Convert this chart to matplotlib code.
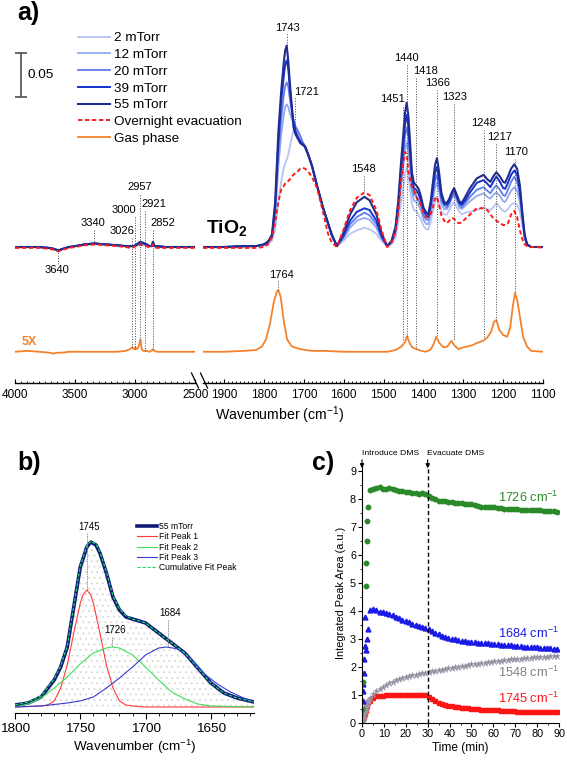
import matplotlib
matplotlib.use("Agg")
import matplotlib.pyplot as plt
from matplotlib.lines import Line2D
from matplotlib.ticker import MultipleLocator

plt.rcParams["font.family"] = ["Liberation Sans", "DejaVu Sans"]
plt.rcParams["mathtext.fontset"] = "custom"
plt.rcParams["mathtext.rm"] = "Liberation Sans"
plt.rcParams["mathtext.bf"] = "Liberation Sans:bold"
plt.rcParams["mathtext.default"] = "regular"
plt.rcParams["hatch.linewidth"] = 0.6

W, H = 567, 763  # output size in pixels


def fx(px):
    return px / W


def fy(py):
    return 1 - py / H


# ---------------------------------------------------------------- panel a
# high-wavenumber window (left part of the broken axis)
wn_lo = [4000, 3900, 3800, 3720, 3680, 3640, 3600, 3550, 3500, 3420,
         3340, 3250, 3150, 3080, 3040, 3026, 3010, 3000, 2985, 2970,
         2957, 2945, 2935, 2921, 2905, 2880, 2865, 2852, 2840, 2820,
         2750, 2650, 2500]

lo_55 = [0.0, 0.0, 0.0, -0.001, -0.002, -0.004, -0.002, 0.0, 0.001, 0.003,
         0.004, 0.003, 0.002, 0.001, 0.001, 0.001, 0.001, 0.002, 0.003, 0.005,
         0.006, 0.005, 0.005, 0.004, 0.003, 0.001, 0.001, 0.006, 0.001, 0.001,
         0.0, 0.0, 0.0]
lo_39 = [0.0, 0.0, 0.0, -0.001, -0.002, -0.004, -0.002, 0.0, 0.001, 0.003,
         0.004, 0.003, 0.002, 0.001, 0.001, 0.001, 0.001, 0.002, 0.003, 0.004,
         0.005, 0.005, 0.004, 0.004, 0.003, 0.001, 0.001, 0.005, 0.001, 0.001,
         0.0, 0.0, 0.0]
lo_20 = [0.0, 0.0, 0.0, -0.001, -0.002, -0.004, -0.002, 0.0, 0.001, 0.003,
         0.004, 0.003, 0.002, 0.001, 0.001, 0.001, 0.001, 0.002, 0.003, 0.004,
         0.004, 0.004, 0.004, 0.003, 0.002, 0.001, 0.001, 0.004, 0.001, 0.001,
         0.0, 0.0, 0.0]
lo_12 = [0.0, 0.0, 0.0, -0.001, -0.002, -0.004, -0.002, 0.0, 0.001, 0.003,
         0.004, 0.003, 0.002, 0.001, 0.001, 0.001, 0.001, 0.001, 0.002, 0.003,
         0.003, 0.003, 0.003, 0.003, 0.002, 0.001, 0.001, 0.003, 0.001, 0.0,
         0.0, 0.0, 0.0]
lo_2 = [0.0, 0.0, 0.0, -0.001, -0.002, -0.003, -0.002, 0.0, 0.001, 0.002,
        0.003, 0.003, 0.002, 0.001, 0.001, 0.001, 0.001, 0.001, 0.001, 0.002,
        0.002, 0.002, 0.002, 0.002, 0.001, 0.001, 0.001, 0.002, 0.001, 0.0,
        0.0, 0.0, 0.0]
lo_evac = [-0.001, -0.001, -0.001, -0.002, -0.003, -0.005, -0.003, -0.001, 0.0, 0.002,
           0.003, 0.002, 0.001, 0.0, -0.001, -0.001, 0.0, 0.001, 0.002, 0.002,
           0.003, 0.002, 0.002, 0.001, 0.001, -0.001, 0.0, 0.003, 0.0, -0.001,
           -0.001, -0.001, -0.001]
lo_gas = [0.0, 0.001, 0.0, -0.001, -0.002, -0.001, -0.001, 0.0, 0.0, 0.0,
          0.0, 0.0, 0.0, 0.001, 0.003, 0.005, 0.003, 0.005, 0.003, 0.006,
          0.014, 0.003, 0.001, 0.001, 0.001, 0.0, 0.001, 0.003, 0.001, 0.0,
          0.0, 0.0, 0.0]

# fingerprint window (right part of the broken axis)
wn_hi = [1953, 1900, 1850, 1820, 1800, 1790, 1780, 1772, 1764, 1757,
         1751, 1747, 1743, 1739, 1735, 1730, 1726, 1721, 1715, 1709,
         1703, 1697, 1690, 1680, 1667, 1652, 1640, 1630, 1617, 1601,
         1584, 1567, 1548, 1535, 1518, 1505, 1491, 1480, 1470, 1463,
         1457, 1451, 1446, 1442, 1438, 1434, 1429, 1424, 1418, 1412,
         1406, 1400, 1393, 1388, 1382, 1376, 1371, 1366, 1361, 1355,
         1348, 1341, 1335, 1329, 1323, 1316, 1310, 1304, 1295, 1283,
         1266, 1249, 1240, 1232, 1225, 1217, 1208, 1200, 1195, 1188,
         1180, 1172, 1165, 1158, 1152, 1146, 1140, 1130, 1115, 1100]

hi_55 = [0.0, 0.0, 0.001, 0.001, 0.003, 0.006, 0.014, 0.051, 0.130, 0.176,
         0.207, 0.223, 0.229, 0.211, 0.186, 0.159, 0.136, 0.128, 0.123, 0.118,
         0.116, 0.114, 0.106, 0.093, 0.070, 0.045, 0.028, 0.014, 0.001, 0.016,
         0.037, 0.051, 0.057, 0.053, 0.037, 0.016, 0.001, 0.007, 0.023, 0.053,
         0.091, 0.125, 0.153, 0.164, 0.150, 0.123, 0.085, 0.073, 0.070, 0.066,
         0.057, 0.045, 0.039, 0.037, 0.051, 0.074, 0.093, 0.101, 0.086, 0.062,
         0.051, 0.050, 0.055, 0.062, 0.067, 0.059, 0.052, 0.050, 0.057, 0.067,
         0.078, 0.082, 0.077, 0.074, 0.080, 0.085, 0.080, 0.074, 0.073, 0.080,
         0.089, 0.094, 0.089, 0.070, 0.040, 0.014, 0.003, 0.0, 0.0, 0.0]
hi_39 = [0.0, 0.0, 0.001, 0.001, 0.003, 0.006, 0.0125, 0.045, 0.119, 0.165,
         0.191, 0.207, 0.212, 0.202, 0.179, 0.157, 0.142, 0.132, 0.125, 0.120,
         0.117, 0.114, 0.106, 0.093, 0.070, 0.045, 0.028, 0.014, 0.001, 0.0125,
         0.030, 0.040, 0.044, 0.042, 0.030, 0.0125, 0.001, 0.006, 0.020, 0.049,
         0.083, 0.114, 0.140, 0.150, 0.137, 0.112, 0.080, 0.067, 0.065, 0.060,
         0.052, 0.042, 0.035, 0.034, 0.047, 0.067, 0.084, 0.091, 0.078, 0.058,
         0.049, 0.048, 0.052, 0.060, 0.065, 0.057, 0.050, 0.048, 0.053, 0.062,
         0.073, 0.076, 0.072, 0.068, 0.074, 0.080, 0.074, 0.067, 0.066, 0.073,
         0.082, 0.087, 0.082, 0.065, 0.037, 0.0125, 0.003, 0.0, 0.0, 0.0]
hi_20 = [0.0, 0.0, 0.001, 0.001, 0.003, 0.006, 0.011, 0.040, 0.105, 0.145,
         0.170, 0.183, 0.187, 0.182, 0.168, 0.153, 0.145, 0.137, 0.132, 0.126,
         0.119, 0.115, 0.107, 0.093, 0.070, 0.045, 0.028, 0.014, 0.001, 0.011,
         0.026, 0.034, 0.039, 0.036, 0.026, 0.011, 0.001, 0.005, 0.018, 0.044,
         0.075, 0.102, 0.127, 0.136, 0.125, 0.102, 0.072, 0.060, 0.058, 0.053,
         0.047, 0.036, 0.031, 0.031, 0.042, 0.060, 0.075, 0.082, 0.070, 0.053,
         0.047, 0.045, 0.050, 0.057, 0.061, 0.055, 0.048, 0.045, 0.050, 0.057,
         0.065, 0.068, 0.064, 0.061, 0.066, 0.070, 0.065, 0.059, 0.058, 0.065,
         0.074, 0.080, 0.074, 0.059, 0.034, 0.011, 0.003, 0.0, 0.0, 0.0]
hi_12 = [0.0, 0.0, 0.001, 0.001, 0.002, 0.005, 0.010, 0.034, 0.091, 0.127,
         0.148, 0.159, 0.162, 0.159, 0.152, 0.145, 0.143, 0.136, 0.132, 0.126,
         0.119, 0.114, 0.106, 0.092, 0.069, 0.045, 0.028, 0.014, 0.001, 0.009,
         0.022, 0.030, 0.033, 0.031, 0.022, 0.009, 0.001, 0.005, 0.016, 0.039,
         0.066, 0.089, 0.110, 0.119, 0.109, 0.090, 0.064, 0.053, 0.051, 0.048,
         0.041, 0.031, 0.026, 0.026, 0.037, 0.053, 0.067, 0.073, 0.064, 0.049,
         0.043, 0.043, 0.048, 0.055, 0.059, 0.052, 0.045, 0.043, 0.047, 0.052,
         0.058, 0.061, 0.057, 0.055, 0.059, 0.062, 0.058, 0.052, 0.051, 0.057,
         0.064, 0.068, 0.064, 0.051, 0.031, 0.010, 0.003, 0.0, 0.0, 0.0]
hi_2 = [0.0, 0.0, 0.0, 0.001, 0.002, 0.003, 0.007, 0.020, 0.051, 0.074,
        0.089, 0.095, 0.099, 0.105, 0.114, 0.125, 0.133, 0.135, 0.132, 0.125,
        0.118, 0.112, 0.105, 0.091, 0.068, 0.044, 0.027, 0.0125, 0.001, 0.007,
        0.015, 0.019, 0.022, 0.020, 0.015, 0.007, 0.001, 0.003, 0.011, 0.028,
        0.048, 0.066, 0.083, 0.091, 0.084, 0.068, 0.050, 0.042, 0.041, 0.036,
        0.031, 0.024, 0.020, 0.020, 0.028, 0.041, 0.051, 0.057, 0.050, 0.041,
        0.037, 0.037, 0.042, 0.048, 0.051, 0.045, 0.040, 0.037, 0.039, 0.040,
        0.042, 0.045, 0.043, 0.042, 0.045, 0.050, 0.045, 0.041, 0.040, 0.043,
        0.048, 0.050, 0.048, 0.040, 0.025, 0.009, 0.002, 0.0, 0.0, 0.0]
hi_evac = [-0.001, -0.001, -0.001, -0.001, 0.0, 0.003, 0.011, 0.028, 0.051, 0.065,
           0.069, 0.072, 0.073, 0.075, 0.077, 0.080, 0.082, 0.084, 0.086, 0.089,
           0.090, 0.089, 0.086, 0.080, 0.067, 0.040, 0.016, 0.005, 0.0, 0.019,
           0.042, 0.056, 0.062, 0.059, 0.042, 0.019, 0.0, 0.005, 0.017, 0.040,
           0.070, 0.095, 0.108, 0.105, 0.087, 0.077, 0.068, 0.066, 0.057, 0.052,
           0.048, 0.039, 0.034, 0.034, 0.037, 0.045, 0.055, 0.057, 0.048, 0.036,
           0.030, 0.027, 0.030, 0.033, 0.032, 0.028, 0.027, 0.028, 0.032, 0.037,
           0.044, 0.044, 0.042, 0.037, 0.033, 0.030, 0.027, 0.025, 0.025, 0.027,
           0.037, 0.041, 0.034, 0.019, 0.009, 0.003, 0.001, 0.0, 0.0, -0.001]

wn_gas = [1953, 1900, 1850, 1820, 1805, 1795, 1785, 1775, 1768, 1764,
          1758, 1750, 1742, 1730, 1710, 1680, 1650, 1600, 1548, 1490,
          1470, 1455, 1446, 1441, 1436, 1428, 1418, 1405, 1395, 1383,
          1375, 1368, 1360, 1350, 1340, 1330, 1322, 1312, 1300, 1280,
          1265, 1250, 1240, 1230, 1223, 1217, 1210, 1200, 1190, 1182,
          1176, 1170, 1164, 1158, 1150, 1140, 1130, 1100]
hi_gas = [0.0, 0.0, 0.001, 0.002, 0.006, 0.014, 0.032, 0.057, 0.068, 0.070,
          0.062, 0.034, 0.014, 0.006, 0.003, 0.001, 0.001, 0.0, 0.0, 0.0,
          0.002, 0.006, 0.011, 0.018, 0.011, 0.005, 0.003, 0.001, 0.0, 0.002,
          0.008, 0.017, 0.010, 0.005, 0.006, 0.0125, 0.007, 0.003, 0.005, 0.007,
          0.010, 0.0125, 0.016, 0.023, 0.034, 0.036, 0.025, 0.019, 0.017, 0.028,
          0.051, 0.067, 0.057, 0.040, 0.017, 0.006, 0.001, 0.0]
GAS_OFFSET = -0.119   # vertical offset of the gas-phase trace

series_a = [
    ("2 mTorr", lo_2, hi_2, "#b7c4f4", 1.3),
    ("12 mTorr", lo_12, hi_12, "#93a8f0", 1.3),
    ("20 mTorr", lo_20, hi_20, "#5f7fe8", 1.3),
    ("39 mTorr", lo_39, hi_39, "#1632cc", 1.4),
    ("55 mTorr", lo_55, hi_55, "#222c8e", 1.5),
]

# peak labels: text, text x, text y, line x, line top, line bottom
labels_hi = [
    ("1743", 1742, 0.2488, 1743, 0.242, 0.2295),
    ("1721", 1693, 0.176, 1721, 0.169, 0.135),
    ("1548", 1551, 0.0886, 1548, 0.0807, 0.0636),
    ("1764", 1757, -0.0318, 1764, -0.0386, -0.0489),
    ("1451", 1477, 0.168, 1451, 0.159, -0.1057),
    ("1440", 1442, 0.2144, 1440, 0.2068, -0.101),
    ("1418", 1394, 0.2003, 1418, 0.192, -0.1159),
    ("1366", 1364, 0.186, 1366, 0.1784, -0.1022),
    ("1323", 1323, 0.170, 1323, 0.1625, -0.1068),
    ("1248", 1248, 0.1405, 1248, 0.1329, -0.1034),
    ("1217", 1209.5, 0.1246, 1217, 0.117, -0.0829),
    ("1170", 1168, 0.1083, 1170, 0.100, -0.0523),
]
labels_lo = [
    ("3640", 3651, -0.0261, 3640, -0.0034, -0.019),
    ("3340", 3351, 0.0273, 3340, 0.0193, 0.0045),
    ("3026", 3110, 0.0182, 3026, 0.0102, -0.1147),
    ("3000", 3093, 0.042, 3000, 0.034, -0.117),
    ("2957", 2960, 0.068, 2957, 0.059, -0.1057),
    ("2921", 2844, 0.0489, 2921, 0.041, -0.118),
    ("2852", 2769, 0.0273, 2852, 0.0193, -0.116),
]

# ---------------------------------------------------------------- panel b
wn_b = [1800, 1790, 1780, 1770, 1765, 1760, 1755, 1750, 1745, 1742,
        1738, 1735, 1730, 1725, 1720, 1715, 1710, 1705, 1700, 1695,
        1690, 1685, 1680, 1670, 1660, 1650, 1640, 1630, 1617]
b_55 = [0.02, 0.04, 0.10, 0.27, 0.40, 0.60, 1.00, 1.40, 1.60, 1.65,
        1.62, 1.54, 1.34, 1.10, 0.97, 0.90, 0.88, 0.86, 0.84, 0.79,
        0.74, 0.69, 0.64, 0.54, 0.39, 0.24, 0.14, 0.09, 0.05]
b_cum = [0.02, 0.05, 0.11, 0.28, 0.41, 0.61, 1.01, 1.41, 1.61, 1.66,
         1.63, 1.55, 1.35, 1.11, 0.98, 0.91, 0.88, 0.86, 0.84, 0.79,
         0.74, 0.69, 0.64, 0.54, 0.39, 0.24, 0.14, 0.09, 0.05]
wn_p1 = [1800, 1780, 1775, 1770, 1765, 1760, 1755, 1750, 1748, 1745,
         1742, 1740, 1735, 1730, 1725, 1720, 1715, 1710, 1700, 1617]
b_p1 = [0.0, 0.01, 0.02, 0.06, 0.19, 0.42, 0.74, 1.04, 1.12, 1.17,
        1.12, 1.04, 0.74, 0.42, 0.19, 0.06, 0.02, 0.01, 0.0, 0.0]
wn_p2 = [1800, 1790, 1780, 1770, 1760, 1750, 1740, 1730, 1726, 1720,
         1710, 1700, 1690, 1680, 1670, 1660, 1650, 1617]
b_p2 = [0.0, 0.03, 0.09, 0.19, 0.30, 0.43, 0.54, 0.59, 0.60, 0.59,
        0.52, 0.40, 0.27, 0.15, 0.08, 0.03, 0.01, 0.0]
wn_p3 = [1800, 1780, 1760, 1750, 1740, 1730, 1720, 1710, 1700, 1690,
         1684, 1675, 1665, 1655, 1645, 1635, 1625, 1617]
b_p3 = [0.0, 0.01, 0.04, 0.06, 0.10, 0.19, 0.29, 0.40, 0.52, 0.59,
        0.60, 0.58, 0.48, 0.33, 0.23, 0.15, 0.09, 0.05]

# ---------------------------------------------------------------- panel c
t_grid = [3.5, 5, 6.5, 8, 9.5, 11, 12.5, 14, 15.5, 17,
          18.5, 20, 21.5, 23, 24.5, 26, 27.5, 29, 30.5, 32,
          33.5, 35, 36.5, 38, 39.5, 41, 42.5, 44, 45.5, 47,
          48.5, 50, 51.5, 53, 54.5, 56, 57.5, 59, 60.5, 62,
          63.5, 65, 66.5, 68, 69.5, 71, 72.5, 74, 75.5, 77,
          78.5, 80, 81.5, 83, 84.5, 86, 87.5, 89]

t_1726_start = [0.15, 0.6, 1.6, 1.8, 2.1, 2.3, 2.6]
v_1726_start = [0.5, 1.45, 4.9, 5.7, 6.5, 7.2, 7.7]
v_1726 = [8.33, 8.36, 8.38, 8.42, 8.37, 8.36, 8.40, 8.35, 8.31, 8.30,
          8.27, 8.25, 8.24, 8.22, 8.20, 8.19, 8.21, 8.18, 8.12, 8.04,
          8.00, 7.94, 7.93, 7.92, 7.90, 7.89, 7.87, 7.85, 7.84, 7.83,
          7.82, 7.81, 7.78, 7.75, 7.73, 7.72, 7.71, 7.70, 7.70, 7.68,
          7.67, 7.66, 7.66, 7.65, 7.64, 7.63, 7.62, 7.60, 7.61, 7.60,
          7.59, 7.60, 7.59, 7.58, 7.57, 7.57, 7.56, 7.55]

t_1684_start = [0.3, 0.45, 0.6, 0.76, 1.0, 1.15, 1.25, 2.0, 2.3, 2.7]
v_1684_start = [0.8, 1.13, 1.4, 1.8, 2.27, 2.75, 3.8, 2.6, 3.0, 3.37]
v_1684 = [4.04, 4.06, 4.02, 3.98, 3.95, 3.92, 3.88, 3.84, 3.80, 3.74,
          3.68, 3.63, 3.59, 3.55, 3.51, 3.48, 3.44, 3.41, 3.36, 3.30,
          3.23, 3.17, 3.12, 3.07, 3.04, 3.01, 2.99, 2.96, 2.94, 2.92,
          2.91, 2.89, 2.88, 2.87, 2.86, 2.85, 2.84, 2.83, 2.82, 2.81,
          2.80, 2.79, 2.78, 2.77, 2.76, 2.75, 2.74, 2.73, 2.72, 2.71,
          2.70, 2.70, 2.69, 2.68, 2.68, 2.67, 2.66, 2.65]

t_slow_start = [0.25, 0.5, 0.75, 1.0, 1.25, 1.5, 1.75, 2.0, 2.25, 2.5, 2.75, 3.0]
v_1548_start = [0.05, 0.12, 0.2, 0.3, 0.38, 0.47, 0.55, 0.62, 0.68, 0.73, 0.78, 0.82]
v_1548 = [0.88, 1.02, 1.13, 1.22, 1.30, 1.36, 1.42, 1.48, 1.53, 1.57,
          1.61, 1.64, 1.67, 1.70, 1.72, 1.75, 1.77, 1.79, 1.81, 1.84,
          1.86, 1.88, 1.91, 1.93, 1.95, 1.97, 1.99, 2.01, 2.03, 2.05,
          2.07, 2.09, 2.11, 2.12, 2.14, 2.16, 2.17, 2.19, 2.20, 2.22,
          2.23, 2.25, 2.26, 2.27, 2.28, 2.29, 2.30, 2.31, 2.32, 2.33,
          2.34, 2.35, 2.36, 2.37, 2.37, 2.38, 2.39, 2.40]
v_1745_start = [0.15, 0.18, 0.22, 0.28, 0.32, 0.38, 0.45, 0.52, 0.6, 0.68, 0.74, 0.78]
v_1745 = [0.80, 0.90, 0.95, 0.97, 0.98, 0.99, 0.99, 1.00, 1.00, 1.00,
          1.01, 1.01, 1.01, 1.01, 1.01, 1.01, 1.01, 1.00, 0.93, 0.84,
          0.77, 0.72, 0.68, 0.64, 0.62, 0.60, 0.58, 0.56, 0.55, 0.53,
          0.52, 0.51, 0.50, 0.49, 0.48, 0.47, 0.47, 0.46, 0.45, 0.45,
          0.44, 0.43, 0.43, 0.42, 0.42, 0.41, 0.41, 0.41, 0.40, 0.40,
          0.40, 0.39, 0.39, 0.39, 0.38, 0.38, 0.38, 0.38]

# ================================================================ drawing
fig = plt.figure(figsize=(W / 100, H / 100), dpi=100)

# ---- panel a: two axes sharing one broken wavenumber axis
ax_l = fig.add_axes([fx(15), fy(383), fx(195.3) - fx(15), fy(20) - fy(383)])
ax_r = fig.add_axes([fx(203), fy(383), fx(543) - fx(203), fy(20) - fy(383)])
for ax in (ax_l, ax_r):
    ax.set_ylim(-0.1545, 0.2579)
    ax.patch.set_visible(False)
    for side in ("top", "left", "right"):
        ax.spines[side].set_visible(False)
    ax.spines["bottom"].set_linewidth(1.0)
    ax.set_yticks([])
    ax.tick_params(axis="x", which="major", direction="in", length=3.2,
                   width=0.8, labelsize=8.5, pad=4)
    ax.tick_params(axis="x", which="minor", direction="in", length=1.8, width=0.6)

ax_l.set_xlim(4000, 2500)
ax_l.xaxis.set_major_locator(MultipleLocator(500))
ax_l.xaxis.set_minor_locator(MultipleLocator(50))
ax_r.set_xlim(1953, 1100)
ax_r.xaxis.set_major_locator(MultipleLocator(100))
ax_r.xaxis.set_minor_locator(MultipleLocator(10))

handles = []
for name, lo, hi, col, lw in series_a:
    ax_l.plot(wn_lo, lo, color=col, lw=lw)
    h, = ax_r.plot(wn_hi, hi, color=col, lw=lw, label=name)
    handles.append(h)

evac_style = dict(color="#ff1a1a", lw=1.4, linestyle=(0, (2.2, 1.4)))
ax_l.plot(wn_lo, lo_evac, **evac_style)
h, = ax_r.plot(wn_hi, hi_evac, label="Overnight evacuation", **evac_style)
handles.append(h)

gas_col = "#f5822a"
ax_l.plot(wn_lo, [v + GAS_OFFSET for v in lo_gas], color=gas_col, lw=1.3)
h, = ax_r.plot(wn_gas, [v + GAS_OFFSET for v in hi_gas], color=gas_col, lw=1.3,
               label="Gas phase")
handles.append(h)

for ax, labs in ((ax_r, labels_hi), (ax_l, labels_lo)):
    for txt, tx, ty, lx, y0, y1 in labs:
        ax.plot([lx, lx], [y0, y1], color="#444444", lw=0.7, linestyle=":")
        ax.text(tx, ty, txt, fontsize=8, ha="center", va="center")

fig.legend(handles, [h.get_label() for h in handles], loc="upper left",
           bbox_to_anchor=(fx(78), fy(32)), frameon=False, fontsize=9.7,
           handlelength=2.4, handletextpad=0.25, labelspacing=0.32,
           borderpad=0, borderaxespad=0)

# 0.05 absorbance scale bar
ax_l.errorbar([3950], [0.1954], yerr=[0.025], fmt="none", ecolor="#505050",
              elinewidth=1.2, capsize=4, capthick=1.2)
ax_l.text(3892, 0.1954, "0.05", fontsize=9.7, ha="left", va="center")

ax_l.text(3879, -0.108, "5X", color=gas_col, fontsize=9, fontweight="bold",
          ha="center", va="center")
fig.text(fx(227), fy(228), r"$\mathbf{TiO_2}$", fontsize=14, ha="center", va="center")
fig.text(fx(280), fy(415), "Wavenumber (cm$^{-1}$)", fontsize=10.2,
         ha="center", va="center")

# axis break marks
for x0 in (191.5, 200.5):
    fig.add_artist(Line2D([fx(x0), fx(x0 + 7)], [fy(373), fy(388)],
                          color="black", lw=0.9))

# ---- panel b: peak fit
ax_b = fig.add_axes([fx(15), fy(713), fx(254) - fx(15), fy(470) - fy(713)])
ax_b.set_xlim(1800, 1617)
ax_b.set_ylim(-0.06, 2.37)
ax_b.patch.set_visible(False)
for side in ("top", "left", "right"):
    ax_b.spines[side].set_visible(False)
ax_b.set_yticks([])
ax_b.xaxis.set_major_locator(MultipleLocator(50))
ax_b.xaxis.set_minor_locator(MultipleLocator(10))
ax_b.tick_params(axis="x", which="major", direction="out", length=4, width=0.8,
                 labelsize=9.7, pad=3)
ax_b.tick_params(axis="x", which="minor", direction="out", length=2.2, width=0.6)

ax_b.fill_between(wn_b, 0, b_cum, facecolor="none", hatch="...",
                  edgecolor="#d6d6d6", linewidth=0)
ax_b.plot(wn_b, b_55, color="#0e1a78", lw=2.6, label="55 mTorr")
ax_b.plot(wn_p1, b_p1, color="#ff3b3b", lw=0.8, label="Fit Peak 1")
ax_b.plot(wn_p2, b_p2, color="#3de05a", lw=0.8, label="Fit Peak 2")
ax_b.plot(wn_p3, b_p3, color="#3a3ad2", lw=0.8, label="Fit Peak 3")
ax_b.plot(wn_b, b_cum, color="#22dd66", lw=0.8, linestyle=(0, (3, 1.5)),
          label="Cumulative Fit Peak")
ax_b.legend(loc="upper left", bbox_to_anchor=(fx(137), fy(522)),
            bbox_transform=fig.transFigure, frameon=False, fontsize=6.2,
            handlelength=2.3, handletextpad=0.25, labelspacing=0.15,
            borderpad=0, borderaxespad=0)

for txt, tx, ty, lx, y0, y1 in [("1745", 1743.3, 1.80, 1745, 1.74, 1.17),
                                ("1726", 1723.4, 0.77, 1726, 0.70, 0.60),
                                ("1684", 1681, 0.94, 1683, 0.87, 0.60)]:
    ax_b.plot([lx, lx], [y0, y1], color="#8a8a8a", lw=0.6, linestyle=(0, (2, 1)))
    ax_b.text(tx, ty, txt, fontsize=7, ha="center", va="center")
ax_b.set_xlabel("Wavenumber (cm$^{-1}$)", fontsize=9.7, labelpad=2)

# ---- panel c: integrated areas vs time
ax_c = fig.add_axes([fx(362), fy(723), fx(559) - fx(362), fy(462.6) - fy(723)])
ax_c.set_xlim(0, 90)
ax_c.set_ylim(0, 9.3)
ax_c.patch.set_visible(False)
for side in ("top", "right"):
    ax_c.spines[side].set_visible(False)
ax_c.xaxis.set_major_locator(MultipleLocator(10))
ax_c.xaxis.set_minor_locator(MultipleLocator(5))
ax_c.yaxis.set_major_locator(MultipleLocator(1))
ax_c.yaxis.set_minor_locator(MultipleLocator(0.5))
ax_c.tick_params(which="major", direction="out", length=2.8, width=0.8,
                 labelsize=7.8, pad=1.5)
ax_c.tick_params(which="minor", direction="out", length=1.6, width=0.6)

ax_c.plot(t_slow_start + t_grid, v_1745_start + v_1745, ls="none", marker="s",
          ms=3, color="#ff1414", mec="#ff1414")
ax_c.plot(t_slow_start + t_grid, v_1548_start + v_1548, ls="none", marker="*",
          ms=5, color="#8a8a8a", mec="#9f9fb8", mew=0.4)
ax_c.plot(t_1684_start + t_grid, v_1684_start + v_1684, ls="none", marker="^",
          ms=3.5, color="#1a1ae6", mec="#1a1ae6")
ax_c.plot(t_1726_start + t_grid, v_1726_start + v_1726, ls="none", marker="o",
          ms=3.2, color="#2a8a2a", mec="#2a8a2a")

ax_c.plot([30, 30], [0, 9.3], color="black", lw=1.0, linestyle=(0, (3, 2)))
for t0, txt in ((0, "Introduce DMS"), (29.5, "Evacuate DMS")):
    ax_c.annotate("", xy=(round(t0), 9.0), xytext=(round(t0), 9.5),
                  arrowprops=dict(arrowstyle="-|>", color="black", lw=0.8,
                                  mutation_scale=6),
                  annotation_clip=False)
    ax_c.text(t0, 9.64, txt, fontsize=6.1, ha="left", va="center")

for txt, y, col in (("1726 cm$^{-1}$", 8.04, "#2a8a2a"),
                    ("1684 cm$^{-1}$", 3.21, "#1a1ae6"),
                    ("1548 cm$^{-1}$", 1.82, "#808080"),
                    ("1745 cm$^{-1}$", 0.89, "#ff1414")):
    ax_c.text(89.7, y, txt, color=col, fontsize=9.2, ha="right", va="center")

ax_c.set_ylabel("Integrated Peak Area (a.u.)", fontsize=7.9, labelpad=3)
ax_c.set_xlabel("Time (min)", fontsize=8.6, labelpad=2)

# panel letters
for px, py, s in ((17, 13, "a)"), (17, 463, "b)"), (312, 463, "c)")):
    fig.text(fx(px), fy(py), s, fontsize=18, fontweight="bold", ha="left", va="center")

fig.savefig("out.png", dpi=100)
